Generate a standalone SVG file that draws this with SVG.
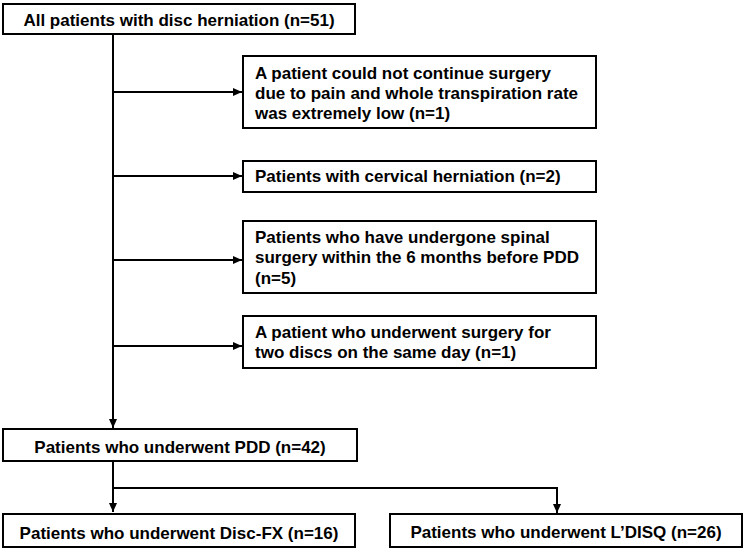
<svg xmlns="http://www.w3.org/2000/svg" width="744" height="549" viewBox="0 0 744 549">
<defs>
<marker id="ah" markerWidth="10" markerHeight="10" refX="9" refY="5" orient="auto" markerUnits="userSpaceOnUse">
<path d="M0,1 L9,5 L0,9 Z" fill="#000"/>
</marker>
</defs>
<style>
.box{fill:#fff;stroke:#000;stroke-width:2}
.t{font-family:"Liberation Sans",Arial,sans-serif;font-weight:bold;font-size:17px;fill:#000}
.c{text-anchor:middle}
.ln{fill:none;stroke:#000;stroke-width:2}
</style>
<rect width="744" height="549" fill="#fff"/>
<g id="connectors">
<path class="ln" d="M113,34 V428" marker-end="url(#ah)"/>
<path class="ln" d="M113,92 H242" marker-end="url(#ah)"/>
<path class="ln" d="M113,176 H242" marker-end="url(#ah)"/>
<path class="ln" d="M113,260 H242" marker-end="url(#ah)"/>
<path class="ln" d="M113,346 H242" marker-end="url(#ah)"/>
<path class="ln" d="M113,461 V512" marker-end="url(#ah)"/>
<path class="ln" d="M113,488 H557 V513" marker-end="url(#ah)"/>
</g>
<g id="all">
<rect class="box" x="3" y="4" width="352" height="30"/>
<text class="t c" x="179" y="26">All patients with disc herniation (n=51)</text>
</g>
<g id="ex1">
<rect class="box" x="243" y="56" width="353" height="72"/>
<text class="t" x="255" y="79">A patient could not continue surgery</text>
<text class="t" x="255" y="99">due to pain and whole transpiration rate</text>
<text class="t" x="255" y="119">was extremely low (n=1)</text>
</g>
<g id="ex2">
<rect class="box" x="243" y="161" width="353" height="31"/>
<text class="t" x="255" y="182">Patients with cervical herniation (n=2)</text>
</g>
<g id="ex3">
<rect class="box" x="243" y="221" width="353" height="72"/>
<text class="t" x="255" y="243">Patients who have undergone spinal</text>
<text class="t" x="255" y="263">surgery within the 6 months before PDD</text>
<text class="t" x="255" y="284">(n=5)</text>
</g>
<g id="ex4">
<rect class="box" x="243" y="316" width="353" height="52"/>
<text class="t" x="255" y="338">A patient who underwent surgery for</text>
<text class="t" x="255" y="358">two discs on the same day (n=1)</text>
</g>
<g id="pdd">
<rect class="box" x="3" y="429" width="354" height="32"/>
<text class="t c" x="180" y="453">Patients who underwent PDD (n=42)</text>
</g>
<g id="discfx">
<rect class="box" x="3" y="514" width="352" height="33"/>
<text class="t c" x="179" y="539">Patients who underwent Disc-FX (n=16)</text>
</g>
<g id="ldisq">
<rect class="box" x="390" y="514" width="352" height="33"/>
<text class="t c" x="566" y="538">Patients who underwent L’DISQ (n=26)</text>
</g>
</svg>
